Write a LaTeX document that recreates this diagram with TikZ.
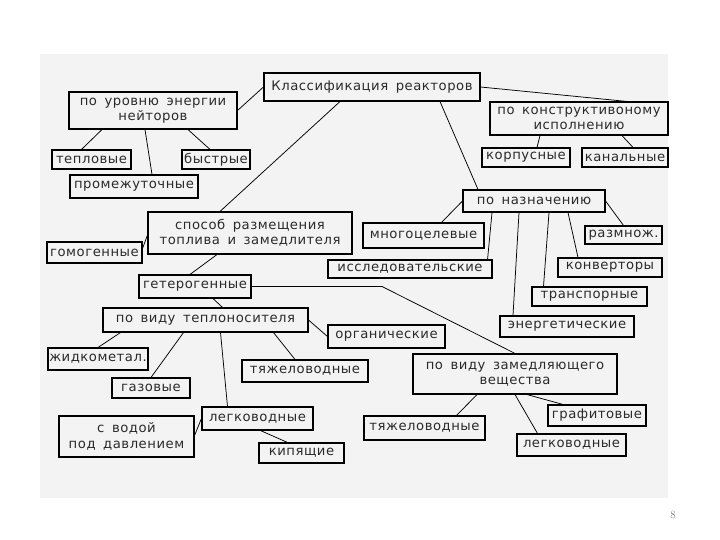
\documentclass[tikz,border=0pt]{standalone}
\usepackage{fontspec}
\newfontfamily\schemefont{DejaVu Sans}[LetterSpace=4,WordSpace=1.6]
\definecolor{panelgray}{HTML}{F3F3F3}
\definecolor{textgray}{HTML}{2A2A2A}

\begin{document}
\begin{tikzpicture}[x=1pt,y=-1pt]
\tikzset{
  classbox/.style={rectangle,draw=black,line width=1.1pt,inner sep=0pt,align=center,
    text=textgray,font=\schemefont\fontsize{13.2}{15.5}\selectfont},
  classedge/.style={draw=black,line width=0.75pt,line cap=round},
  mainedge/.style={classedge,line width=1.5pt}
}
\useasboundingbox (0,0) rectangle (720,540);
\fill[panelgray] (40,54) rectangle (668,498);
\node[classbox,minimum width=216pt,minimum height=28pt] (n_klass) at (372,87) {Классификация реакторов};
\node[classbox,minimum width=168pt,minimum height=37pt] (n_nejtr) at (153,110.5) {по уровню энергии\\нейторов};
\node[classbox,minimum width=79pt,minimum height=19pt] (n_teplo) at (91.5,159.5) {тепловые};
\node[classbox,minimum width=68pt,minimum height=19pt] (n_bystr) at (216,159.5) {быстрые};
\node[classbox,minimum width=128pt,minimum height=23pt] (n_promezh) at (134,186.5) {промежуточные};
\node[classbox,minimum width=178pt,minimum height=33pt] (n_konstr) at (579,118.5) {по конструктивоному\\исполнению};
\node[classbox,minimum width=88pt,minimum height=19pt] (n_korpus) at (526,157.5) {корпусные};
\node[classbox,minimum width=86pt,minimum height=19pt] (n_kanal) at (625,157.5) {канальные};
\node[classbox,minimum width=204pt,minimum height=42pt] (n_sposob) at (250,233) {способ размещения\\топлива и замедлителя};
\node[classbox,minimum width=95pt,minimum height=21pt] (n_gomo) at (94.5,252.5) {гомогенные};
\node[classbox,minimum width=112pt,minimum height=23pt] (n_getero) at (195,286.5) {гетерогенные};
\node[classbox,minimum width=205pt,minimum height=24pt] (n_teplonos) at (205.5,320) {по виду теплоносителя};
\node[classbox,minimum width=117pt,minimum height=23pt] (n_organ) at (386.5,336.5) {органические};
\node[classbox,minimum width=100pt,minimum height=22pt] (n_zhidk) at (98,359) {жидкометал.};
\node[classbox,minimum width=78pt,minimum height=20pt] (n_gaz) at (151,388) {газовые};
\node[classbox,minimum width=126pt,minimum height=22pt] (n_tyazhA) at (305,371) {тяжеловодные};
\node[classbox,minimum width=111pt,minimum height=23pt] (n_legkA) at (257.5,418.5) {легководные};
\node[classbox,minimum width=135pt,minimum height=41pt] (n_vodoj) at (126.5,436.5) {с водой\\под давлением};
\node[classbox,minimum width=85pt,minimum height=20pt] (n_kip) at (301.5,453) {кипящие};
\node[classbox,minimum width=142pt,minimum height=22pt] (n_naznach) at (534,201) {по назначению};
\node[classbox,minimum width=121pt,minimum height=25pt] (n_mnogo) at (423.5,235.5) {многоцелевые};
\node[classbox,minimum width=164pt,minimum height=18pt] (n_issled) at (410,269) {исследовательские};
\node[classbox,minimum width=77pt,minimum height=18pt] (n_razmn) at (623.5,235) {размнож.};
\node[classbox,minimum width=104pt,minimum height=19pt] (n_konv) at (610,267.5) {конверторы};
\node[classbox,minimum width=115pt,minimum height=19pt] (n_transp) at (589.5,296.5) {транспорные};
\node[classbox,minimum width=134pt,minimum height=21pt] (n_energ) at (567,326.5) {энергетические};
\node[classbox,minimum width=204pt,minimum height=40pt] (n_zamedl) at (515,374) {по виду замедляющего\\вещества};
\node[classbox,minimum width=121pt,minimum height=24pt] (n_tyazhB) at (424.5,428) {тяжеловодные};
\node[classbox,minimum width=98pt,minimum height=21pt] (n_grafit) at (597,415.5) {графитовые};
\node[classbox,minimum width=109pt,minimum height=22pt] (n_legkB) at (571.5,445) {легководные};
\node[font=\fontsize{11}{12}\selectfont,text=black!55] (n_page) at (673,515) {8};
\coordinate (c_bend) at (382,286.5);
\draw[classedge] (n_klass.west) -- (n_nejtr.east);
\draw[classedge] ([xshift=-51pt]n_nejtr.south) -- ([xshift=-10pt]n_teplo.north);
\draw[classedge] ([xshift=-8pt]n_nejtr.south) -- ([xshift=18pt]n_promezh.north);
\draw[classedge] ([xshift=35pt]n_nejtr.south) -- ([xshift=-6pt]n_bystr.north);
\draw[classedge] (n_klass.east) -- ([xshift=48pt]n_konstr.north);
\draw[classedge] ([xshift=-39pt]n_konstr.south) -- ([xshift=11pt]n_korpus.north);
\draw[classedge] ([xshift=43pt]n_konstr.south) -- ([xshift=8pt]n_kanal.north);
\draw[classedge] ([xshift=-32pt]n_klass.south) -- ([xshift=-30pt]n_sposob.north);
\draw[classedge] ([xshift=68pt]n_klass.south) -- ([xshift=-56pt]n_naznach.north);
\draw[classedge] ([yshift=4pt]n_gomo.east) -- ([yshift=-2pt]n_sposob.west);
\draw[classedge] ([xshift=-33pt]n_sposob.south) -- ([xshift=-5pt]n_getero.north);
\draw[mainedge] (n_getero.east) -- (c_bend);
\draw[classedge] (c_bend) -- (n_zamedl.north);
\draw[classedge] ([xshift=18pt]n_getero.south) -- ([xshift=17pt]n_teplonos.north);
\draw[classedge] (n_teplonos.east) -- (n_organ.west);
\draw[classedge] ([xshift=-85pt]n_teplonos.south) -- (n_zhidk.north);
\draw[classedge] ([xshift=-22pt]n_teplonos.south) -- (n_gaz.north);
\draw[classedge] ([xshift=15pt]n_teplonos.south) -- ([xshift=-30pt]n_legkA.north);
\draw[classedge] ([xshift=68pt]n_teplonos.south) -- ([xshift=-10pt]n_tyazhA.north);
\draw[classedge] (n_legkA.west) -- ([yshift=1pt]n_vodoj.east);
\draw[classedge] ([xshift=3pt]n_legkA.south) -- ([xshift=-14pt]n_kip.north);
\draw[classedge] (n_naznach.west) -- ([xshift=18pt]n_mnogo.north);
\draw[classedge] ([xshift=-42pt]n_naznach.south) -- ([xshift=-5pt]n_issled.north east);
\draw[classedge] ([xshift=-15pt]n_naznach.south) -- ([xshift=-54pt]n_energ.north);
\draw[classedge] ([xshift=15pt]n_naznach.south) -- ([xshift=-46pt]n_transp.north);
\draw[classedge] ([xshift=34pt]n_naznach.south) -- ([xshift=-32pt]n_konv.north);
\draw[classedge] (n_naznach.east) -- (n_razmn.north);
\draw[classedge] ([xshift=-38pt]n_zamedl.south) -- ([xshift=32pt]n_tyazhB.north);
\draw[classedge] (n_zamedl.south) -- ([xshift=-34pt]n_legkB.north);
\draw[classedge] ([xshift=12pt]n_zamedl.south) -- ([xshift=-34pt]n_grafit.north);
\end{tikzpicture}
\end{document}
